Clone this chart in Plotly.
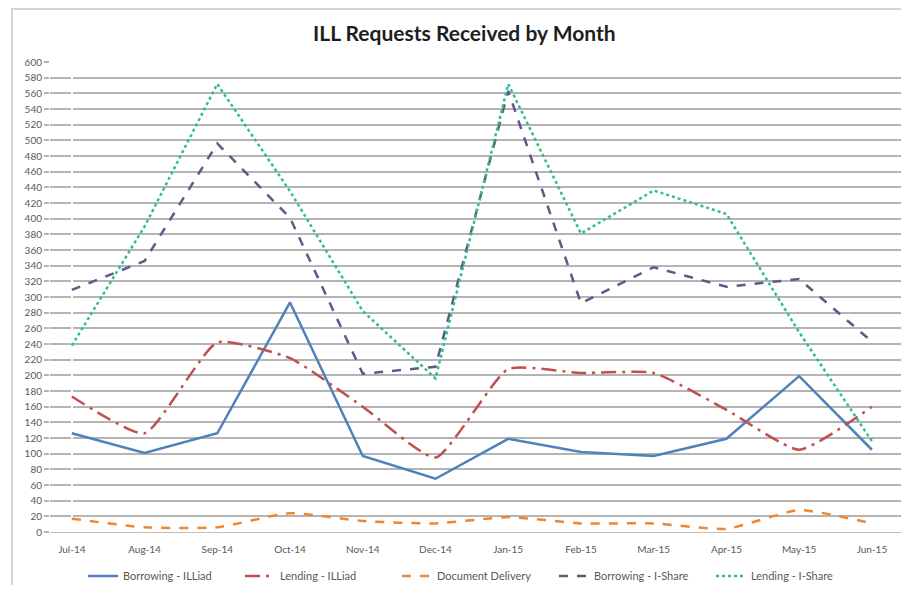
import plotly.graph_objects as go

months = ['Jul-14', 'Aug-14', 'Sep-14', 'Oct-14', 'Nov-14', 'Dec-14',
          'Jan-15', 'Feb-15', 'Mar-15', 'Apr-15', 'May-15', 'Jun-15']

borrowing_illiad = [126, 101, 126, 293, 97, 68, 119, 102, 97, 119, 199, 105]
lending_illiad = [173, 126, 242, 222, 160, 95, 208, 203, 203, 156, 105, 160]
document_delivery = [17, 6, 6, 24, 14, 11, 19, 11, 11, 4, 28, 11]
borrowing_ishare = [309, 346, 496, 401, 202, 211, 563, 292, 338, 313, 323, 243]
lending_ishare = [238, 390, 572, 435, 282, 196, 572, 381, 436, 406, 255, 116]

y_ticks = list(range(0, 601, 20))

series = [
    ('Borrowing - ILLiad', borrowing_illiad, '#4f81bd', 'solid', 'linear'),
    ('Lending - ILLiad', lending_illiad, '#c0504d', 'longdashdot', 'spline'),
    ('Document Delivery', document_delivery, '#f0862f', 'dash', 'spline'),
    ('Borrowing - I-Share', borrowing_ishare, '#5b5b85', 'dash', 'linear'),
    ('Lending - I-Share', lending_ishare, '#2fbf8f', 'dot', 'linear'),
]

fig = go.Figure()
for name, vals, color, dash, shape in series:
    fig.add_trace(go.Scatter(
        x=list(range(len(months))), y=vals, name=name, mode='lines',
        line=dict(color=color, width=2.5, dash=dash, shape=shape, smoothing=0.5)))

# the page adds an 8px body margin, so the figure is 16px smaller than the window
fig.update_layout(
    width=893, height=577,
    margin=dict(l=42, r=0, t=54, b=53),
    paper_bgcolor='white', plot_bgcolor='white',
    font=dict(family='Lato, Open Sans, sans-serif', color='#595959', size=10),
    title=dict(text='<b>ILL Requests Received by Month</b>', x=0.511, xanchor='center',
               y=1 - 26 / 577, yanchor='middle', font=dict(size=21, color='#1e1e1e')),
    showlegend=True,
    legend=dict(orientation='h', xref='paper', x=0.5, xanchor='center',
                yref='container', y=1 - 568 / 577, yanchor='middle',
                font=dict(size=11, color='#595959'), itemwidth=30,
                entrywidth=112, tracegroupgap=0),
    shapes=[dict(type='rect', xref='paper', yref='paper',
                 x0=-0.0447, x1=1.02, y0=-0.16, y1=1.113,
                 line=dict(color='#c8c8c8', width=1.5))],
)

fig.update_xaxes(
    tickmode='array', tickvals=list(range(len(months))), ticktext=months,
    range=[-0.3, 11.4], showgrid=False, showline=True, linecolor='#bfbfbf',
    linewidth=1, ticks='', ticklabelstandoff=8, tickfont=dict(size=10),
    fixedrange=True)

fig.update_yaxes(
    range=[0, 600], tickvals=y_ticks, showgrid=True, gridcolor='#b4b4b4',
    gridwidth=1.5, showline=False, ticks='outside', ticklen=5,
    tickcolor='#b4b4b4', tickwidth=1.5, zeroline=False, tickfont=dict(size=10))

fig.write_html('out.html')
